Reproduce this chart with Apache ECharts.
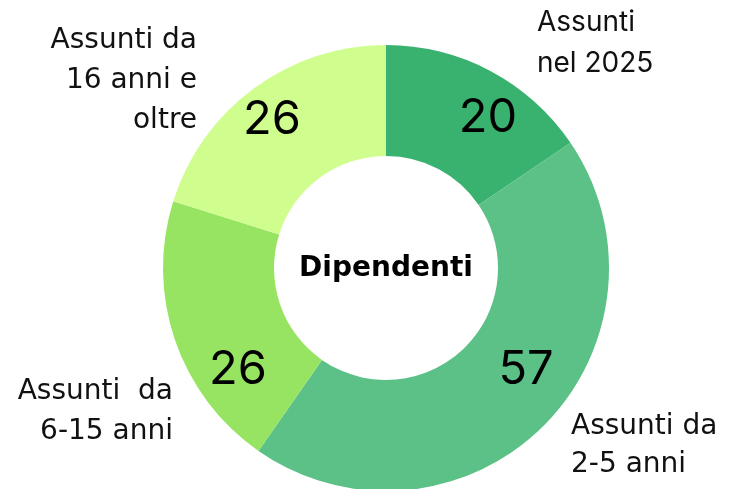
<!DOCTYPE html>
<html>
<head>
<meta charset="utf-8">
<script src="https://cdn.jsdelivr.net/npm/echarts@6/dist/echarts.min.js"></script>
<style>
  html, body { margin: 0; padding: 0; background: #fff; }
  #chart { width: 739px; height: 489px; }
</style>
</head>
<body>
<div id="chart"></div>
<script>
  // dati
  const categories = ["Assunti nel 2025", "Assunti da 2-5 anni", "Assunti  da 6-15 anni", "Assunti da 16 anni e oltre"];
  const values = [20, 57, 26, 26];
  const colors = ["#3AB26F", "#5CC186", "#97E462", "#CFFD8E"];
  const centerTitle = "Dipendenti";

  // posizioni dei numeri dentro l'anello
  const valuePos = [[488, 118], [526, 370], [238, 370], [272, 120]];

  const chart = echarts.init(document.getElementById("chart"));

  const FONT = "Inter, 'Noto Sans', sans-serif";
  const FONT2 = "'DejaVu Sans', sans-serif";

  const option = {
    backgroundColor: "#fff",
    animation: false,
    series: [
      {
        type: "pie",
        center: [386, 268],
        radius: [112, 223],
        startAngle: 90,
        clockwise: true,
        silent: true,
        data: values.map((v, i) => ({
          name: categories[i],
          value: v,
          itemStyle: { color: colors[i] }
        })),
        label: {
          show: true,
          position: "inside",
          formatter: "{c}",
          color: "#000",
          fontSize: 47,
          fontFamily: FONT
        },
        labelLine: { show: false },
        labelLayout: (params) => ({
          x: valuePos[params.dataIndex][0],
          y: valuePos[params.dataIndex][1],
          align: "center",
          verticalAlign: "middle"
        })
      }
    ],
    graphic: [
      {
        type: "text", position: [386, 269],
        style: {
          text: centerTitle, align: "center", verticalAlign: "middle",
          font: "bold 28px " + FONT2, fill: "#000"
        }
      },
      {
        type: "text", position: [537, 43],
        style: {
          text: "Assunti\nnel 2025", align: "left", verticalAlign: "middle",
          font: "28px " + FONT, lineHeight: 41, fill: "#111"
        }
      },
      {
        type: "text", position: [197, 81],
        style: {
          text: "Assunti da\n16 anni e\noltre", align: "right", verticalAlign: "middle",
          font: "28px " + FONT2, lineHeight: 40, fill: "#111"
        }
      },
      {
        type: "text", position: [173, 412],
        style: {
          text: "Assunti  da\n6-15 anni", align: "right", verticalAlign: "middle",
          font: "28px " + FONT2, lineHeight: 40, fill: "#111"
        }
      },
      {
        type: "text", position: [571, 446],
        style: {
          text: "Assunti da\n2-5 anni", align: "left", verticalAlign: "middle",
          font: "28px " + FONT2, lineHeight: 38, fill: "#111"
        }
      }
    ]
  };

  chart.setOption(option);
</script>
</body>
</html>
